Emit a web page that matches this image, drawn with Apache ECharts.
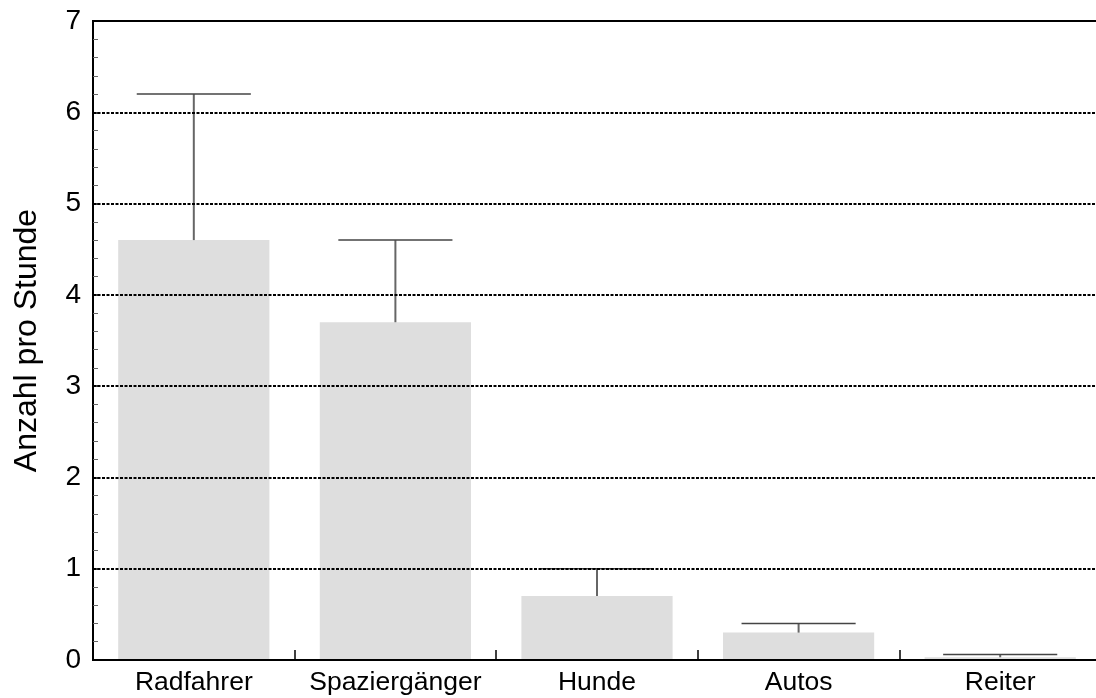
<!DOCTYPE html>
<html>
<head>
<meta charset="utf-8">
<script src="https://cdn.jsdelivr.net/npm/echarts@6/dist/echarts.min.js"></script>
<style>
  html, body { margin: 0; padding: 0; background: #fff; }
  #chart { width: 1096px; height: 698px; }
</style>
</head>
<body>
<div id="chart"></div>
<script>
// Verkehrsaufkommen: Mittelwert pro Stunde mit oberer Fehlergrenze
const categories = ['Radfahrer', 'Spaziergänger', 'Hunde', 'Autos', 'Reiter'];
const meanValues = [4.6, 3.7, 0.7, 0.3, 0.03];
const upperValues = [6.2, 4.6, 1.0, 0.4, 0.06];
const yTicks = [0, 1, 2, 3, 4, 5, 6, 7];

const FONT = 'Arial, "Liberation Sans", sans-serif';

const chart = echarts.init(document.getElementById('chart'), null, { renderer: 'canvas' });

const errorData = categories.map((c, i) => [i, meanValues[i], upperValues[i]]);

chart.setOption({
  animation: false,
  backgroundColor: '#ffffff',
  grid: {
    left: 93, width: 1008, top: 21, bottom: 38, containLabel: false,
    outerBoundsMode: 'none',
    show: true, borderColor: '#000', borderWidth: 2, backgroundColor: 'transparent'
  },
  xAxis: {
    type: 'category',
    data: categories,
    axisLine: { show: true, onZero: false, lineStyle: { color: '#000', width: 2 } },
    axisTick: { show: true, inside: true, interval: 0, length: 10, lineStyle: { color: '#000', width: 1.5 } },
    axisLabel: { color: '#000', fontSize: 26.5, fontFamily: FONT, margin: 9, interval: 0 },
    splitLine: { show: false },
    z: 5
  },
  yAxis: {
    type: 'value',
    min: yTicks[0],
    max: yTicks[yTicks.length - 1],
    interval: 1,
    name: 'Anzahl pro Stunde',
    nameLocation: 'middle',
    nameGap: 50,
    nameTextStyle: { color: '#000', fontSize: 32, fontFamily: FONT },
    axisLine: { show: true, lineStyle: { color: '#000', width: 2 } },
    axisTick: { show: true, inside: true, length: 7, lineStyle: { color: '#000', width: 1.5 } },
    minorTick: { show: true, splitNumber: 5, length: 5, lineStyle: { color: '#666', width: 1 } },
    axisLabel: { color: '#000', fontSize: 28, fontFamily: FONT, margin: 12 },
    splitLine: { show: true, lineStyle: { color: '#000', width: 2, type: [3, 1.5] } },
    z: 5
  },
  series: [
    {
      type: 'bar',
      data: meanValues,
      barCategoryGap: '25%',
      itemStyle: { color: '#dedede' },
      z: 2
    },
    {
      type: 'custom',
      data: errorData,
      z: 3,
      renderItem: function (params, api) {
        const idx = api.value(0);
        const base = api.coord([idx, api.value(1)]);
        const top = api.coord([idx, api.value(2)]);
        const half = api.size([1, 0])[0] * 0.283;
        return {
          type: 'group',
          children: [
            {
              type: 'line',
              shape: { x1: base[0], y1: base[1], x2: top[0], y2: top[1] },
              style: { stroke: '#666', lineWidth: 2 }
            },
            {
              type: 'line',
              shape: { x1: top[0] - half, y1: top[1], x2: top[0] + half, y2: top[1] },
              style: { stroke: '#444', lineWidth: 1.5 }
            }
          ]
        };
      }
    }
  ]
});
</script>
</body>
</html>
